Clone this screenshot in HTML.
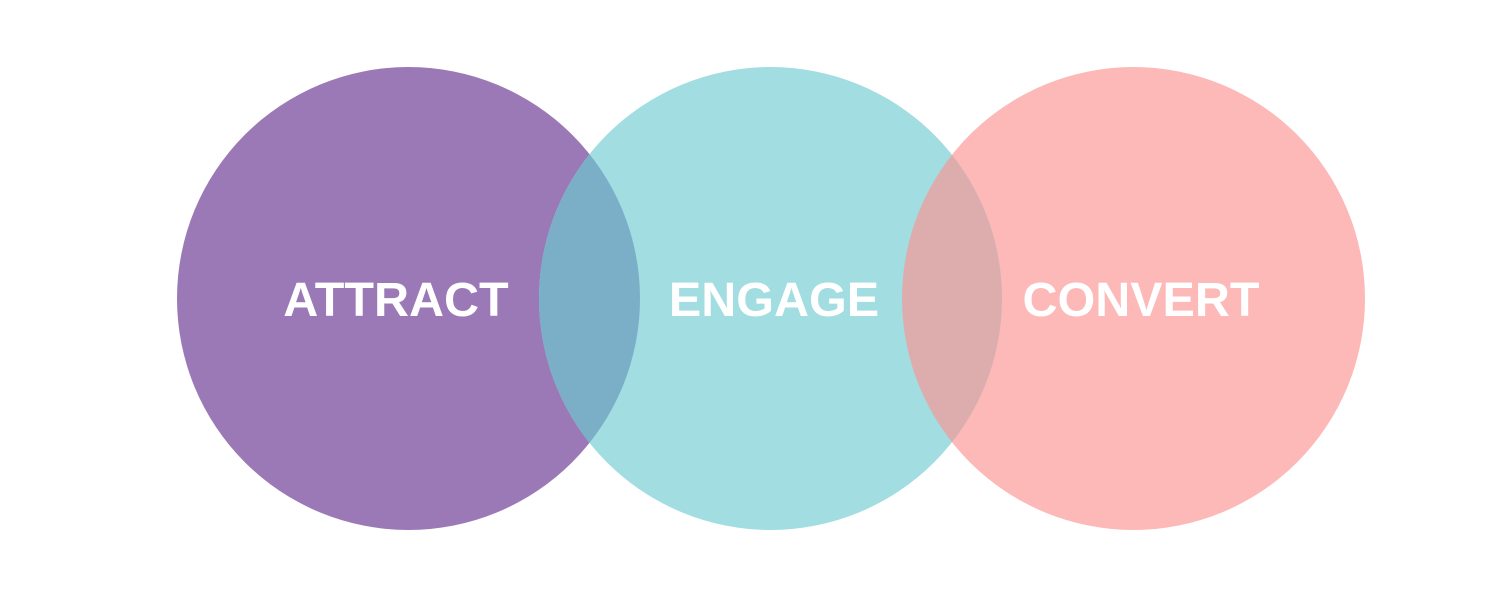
<!DOCTYPE html>
<html><head><meta charset="utf-8"><style>
html,body{margin:0;padding:0;background:#fff;}
</style></head><body>
<svg width="1500" height="600" xmlns="http://www.w3.org/2000/svg">
<defs>
<clipPath id="c1"><circle cx="408.5" cy="298.5" r="231.5"/></clipPath>
<clipPath id="c3"><circle cx="1133.5" cy="298.5" r="231.5"/></clipPath>
</defs>
<circle cx="408.5" cy="298.5" r="231.5" fill="#9B79B6"/>
<circle cx="1133.5" cy="298.5" r="231.5" fill="#FDB8B8"/>
<circle cx="770.5" cy="298.5" r="231.5" fill="#A1DDE1"/>
<circle cx="770.5" cy="298.5" r="231.5" fill="#7BAFC8" clip-path="url(#c1)"/>
<circle cx="770.5" cy="298.5" r="231.5" fill="#DDADAE" clip-path="url(#c3)"/>
<g font-family="Liberation Sans, Arial, sans-serif" font-weight="bold" font-size="48.5" fill="#fff" text-anchor="middle">
<text x="396" y="316">ATTRACT</text>
<text x="774" y="316">ENGAGE</text>
<text x="1141" y="316">CONVERT</text>
</g>
</svg>
</body></html>
